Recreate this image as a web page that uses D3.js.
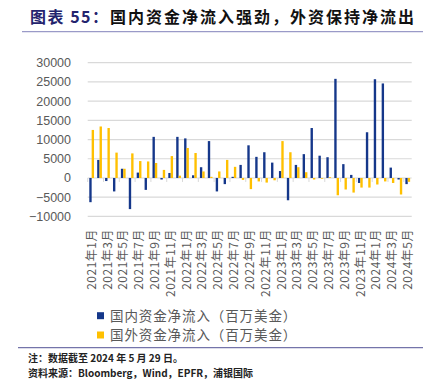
<!DOCTYPE html>
<html><head><meta charset="utf-8">
<script src="https://cdn.jsdelivr.net/npm/d3@7"></script>
<style>
html,body{margin:0;padding:0;background:#fff;}
svg{display:block;}
</style></head>
<body>
<script>
const months = ["2021年1月","2021年2月","2021年3月","2021年4月","2021年5月","2021年6月","2021年7月","2021年8月","2021年9月","2021年10月","2021年11月","2021年12月",
"2022年1月","2022年2月","2022年3月","2022年4月","2022年5月","2022年6月","2022年7月","2022年8月","2022年9月","2022年10月","2022年11月","2022年12月",
"2023年1月","2023年2月","2023年3月","2023年4月","2023年5月","2023年6月","2023年7月","2023年8月","2023年9月","2023年10月","2023年11月","2023年12月",
"2024年1月","2024年2月","2024年3月","2024年4月","2024年5月"];
const domestic = [-6300,4700,-800,-3500,2400,-8100,1400,-3100,10700,-400,1300,10700,10300,700,2800,9600,-3500,-1600,300,3400,8500,5500,6700,4000,1800,-5800,3400,6200,13000,5800,5400,25800,3600,800,-1300,11900,25700,24600,2700,-400,-1600];
const foreign = [12500,13400,13000,6600,2400,6400,4400,4300,3900,2100,5700,600,7800,6500,1700,300,1700,4700,2900,-500,-2900,-900,-1200,-600,9600,6700,2800,1500,-400,-200,200,-4500,-3000,-3800,-2500,-2500,-1700,-900,-1300,-4300,-1000];
const yTicks = [-10000,-5000,0,5000,10000,15000,20000,25000,30000];
const seriesNames = ["国内资金净流入（百万美金）","国外资金净流入（百万美金）"];
const seriesKeys = ["domestic","foreign"];
const colors = {domestic:"#15378a", foreign:"#ffc000"};
const title1 = "图表 55：";
const title2 = "国内资金净流入强劲，外资保持净流出";
const note = "注：数据截至 2024 年 5 月 29 日。";
const source = "资料来源：Bloomberg，Wind，EPFR，浦银国际";

const W = 444, H = 379;
const svg = d3.select("body").append("svg").attr("width", W).attr("height", H);
const cjk = "'Noto Sans CJK SC','Noto Sans',sans-serif";

// title
const t = svg.append("text").attr("x", 30).attr("y", 23).attr("font-family", cjk)
  .attr("font-size", 16).attr("font-weight", "bold");
t.append("tspan").attr("fill", "#24246e").attr("letter-spacing", 1.5).text(title1);
t.append("tspan").attr("fill", "#111").attr("x", 110).attr("letter-spacing", 2.0).text(title2);
svg.append("line").attr("x1", 22).attr("x2", 423).attr("y1", 31.7).attr("y2", 31.7)
  .attr("stroke", "#9a9ac8").attr("stroke-width", 1.3);

const data = months.map((m, i) => ({month: m, domestic: domestic[i], foreign: foreign[i]}));

const x0 = d3.scaleBand().domain(months).range([87.7, 411.7]).paddingInner(0.4).paddingOuter(0.2);
const x1 = d3.scaleBand().domain(seriesKeys).range([0, x0.bandwidth()]);
const y = d3.scaleLinear().domain([-10000, 30000]).range([216.4, 62.7]);

// grid
svg.append("g").selectAll("line").data(yTicks).join("line")
  .attr("x1", 87.7).attr("x2", 411.7)
  .attr("y1", d => y(d)).attr("y2", d => y(d))
  .attr("stroke", "#d9d9d9").attr("stroke-width", 1.2);

// y labels
const yAxis = d3.axisLeft(y).tickValues(yTicks).tickSize(0).tickPadding(0).tickFormat(d3.format("d"));
const gy = svg.append("g").attr("transform", "translate(71,0)").call(yAxis);
gy.select(".domain").remove();
gy.selectAll("text").attr("font-family", "'Liberation Sans',Arial,sans-serif").attr("font-size", 12.5).attr("fill", "#595959");

// x tick marks at boundaries of labelled months
const step = x0.step();
const tickIdx = d3.range(0, months.length + 1, 2);
svg.append("g").selectAll("line").data(tickIdx).join("line")
  .attr("x1", i => 87.7 + i * step).attr("x2", i => 87.7 + i * step)
  .attr("y1", y(0)).attr("y2", y(0) + 4)
  .attr("stroke", "#d9d9d9").attr("stroke-width", 1);

// bars
const groups = svg.append("g").selectAll("g").data(data).join("g")
  .attr("transform", d => `translate(${x0(d.month)},0)`);
groups.selectAll("rect").data(d => seriesKeys.map(k => ({key: k, value: d[k]}))).join("rect")
  .attr("x", d => x1(d.key))
  .attr("width", x1.bandwidth())
  .attr("y", d => y(Math.max(0, d.value)))
  .attr("height", d => Math.abs(y(d.value) - y(0)))
  .attr("fill", d => colors[d.key]);

// x labels (every 2 months)
svg.append("g").selectAll("text").data(months.filter((m, i) => i % 2 === 0)).join("text")
  .attr("transform", d => `translate(${x0(d) + x0.bandwidth() / 2},229) rotate(-90)`)
  .attr("text-anchor", "end").attr("dy", "0.35em")
  .attr("font-family", cjk).attr("font-size", 12).attr("letter-spacing", 0.5)
  .attr("fill", "#595959").text(d => d);

// legend
const lg = svg.append("g").selectAll("g").data(seriesKeys).join("g")
  .attr("transform", (d, i) => `translate(97,${315.7 + i * 19.3})`);
lg.append("rect").attr("x", 0).attr("y", -3.5).attr("width", 7).attr("height", 7).attr("fill", d => colors[d]);
lg.append("text").attr("x", 13).attr("dy", "0.36em").attr("font-family", cjk)
  .attr("font-size", 13.5).attr("letter-spacing", 0.9).attr("fill", "#595959").text((d, i) => seriesNames[i]);

svg.append("line").attr("x1", 18).attr("x2", 423).attr("y1", 347.7).attr("y2", 347.7)
  .attr("stroke", "#7474aa").attr("stroke-width", 1.3);

svg.append("text").attr("x", 28).attr("y", 362).attr("font-family", cjk).attr("font-size", 10)
  .attr("font-weight", "bold").attr("fill", "#222").text(note);
svg.append("text").attr("x", 28).attr("y", 377).attr("font-family", cjk).attr("font-size", 10)
  .attr("font-weight", "bold").attr("fill", "#222").text(source);
</script>
</body></html>
